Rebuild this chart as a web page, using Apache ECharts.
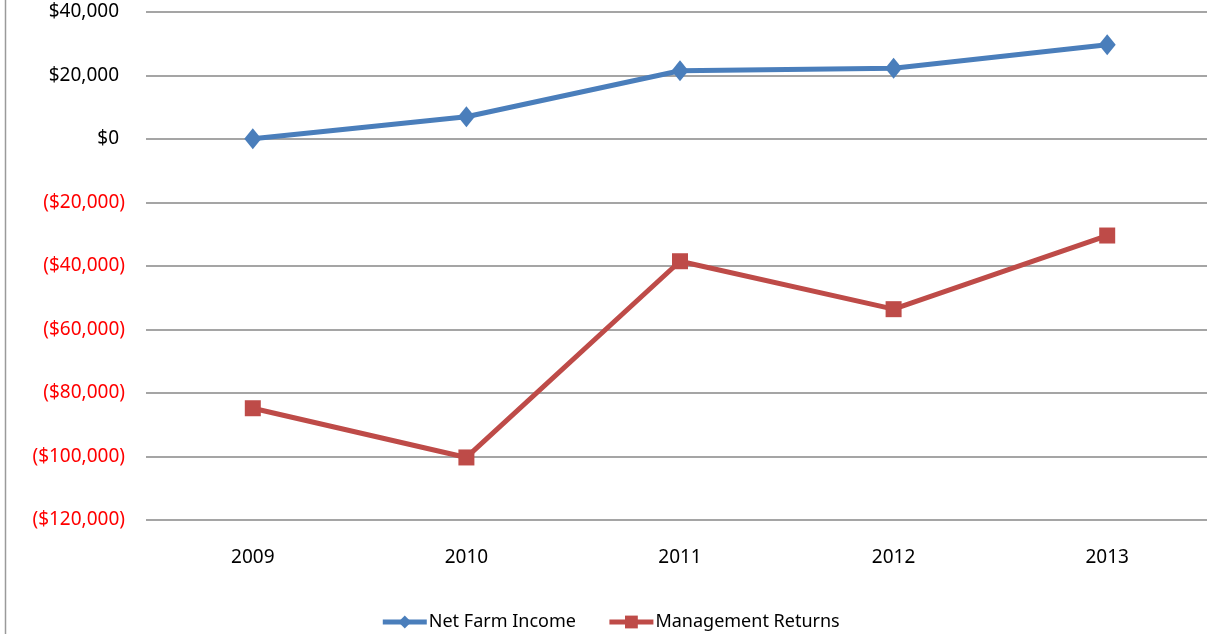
<!DOCTYPE html>
<html>
<head>
<meta charset="utf-8">
<script src="https://cdn.jsdelivr.net/npm/echarts@6/dist/echarts.min.js"></script>
<style>
  html, body { margin: 0; padding: 0; background: #fff; overflow: hidden; }
  #chart { width: 1220px; height: 634px; }
</style>
</head>
<body>
<div id="chart"></div>
<script>
// Yearly farm results
const years = ['2009', '2010', '2011', '2012', '2013'];
const netFarmIncome = [100, 7000, 21500, 22300, 29700];
const managementReturns = [-84800, -100300, -38500, -53600, -30400];
const yTicks = { min: -120000, max: 40000, step: 20000 };

const FONT = "'Noto Sans', 'Open Sans', sans-serif";

function money(v) {
  const s = '$' + Math.abs(v).toLocaleString('en-US');
  return v < 0 ? '{neg|(' + s + ')}' : '{pos|' + s + '}';
}

const chart = echarts.init(document.getElementById('chart'));
chart.setOption({
  animation: false,
  backgroundColor: '#fff',
  grid: { left: 146, top: 12, right: 6, height: 508, containLabel: false },
  xAxis: {
    type: 'category',
    data: years,
    boundaryGap: true,
    axisLine: { show: false },
    axisTick: { show: false },
    axisLabel: { color: '#000', fontFamily: FONT, fontSize: 19, margin: 28 }
  },
  yAxis: {
    type: 'value',
    min: yTicks.min,
    max: yTicks.max,
    interval: yTicks.step,
    axisLine: { show: false },
    axisTick: { show: false },
    splitLine: { lineStyle: { color: '#878787', width: 1.6 } },
    axisLabel: {
      margin: 21,
      fontSize: 19,
      fontFamily: FONT,
      formatter: money,
      rich: {
        pos: { color: '#000', fontFamily: FONT, fontSize: 19, padding: [0, 6, 0, 0] },
        neg: { color: '#ff0000', fontFamily: FONT, fontSize: 19 }
      }
    }
  },
  legend: {
    bottom: -2,
    left: 'center',
    itemWidth: 44,
    itemHeight: 16,
    itemGap: 31,
    lineStyle: { width: 5 },
    textStyle: { color: '#000', fontFamily: FONT, fontSize: 18, padding: [0, 0, 0, -3] },
    data: ['Net Farm Income', 'Management Returns']
  },
  series: [
    {
      name: 'Net Farm Income',
      type: 'line',
      data: netFarmIncome,
      symbol: 'diamond',
      symbolSize: [17, 21],
      color: '#4a7ebb',
      lineStyle: { width: 5, color: '#4a7ebb' },
      itemStyle: { color: '#4a7ebb' }
    },
    {
      name: 'Management Returns',
      type: 'line',
      data: managementReturns,
      symbol: 'rect',
      symbolSize: 16,
      color: '#be4b48',
      lineStyle: { width: 5, color: '#be4b48' },
      itemStyle: { color: '#be4b48' }
    }
  ],
  graphic: [
    {
      type: 'line',
      shape: { x1: 5.5, y1: 0, x2: 5.5, y2: 634 },
      style: { stroke: '#9a9a9a', lineWidth: 1.5 }
    }
  ]
});
</script>
</body>
</html>
